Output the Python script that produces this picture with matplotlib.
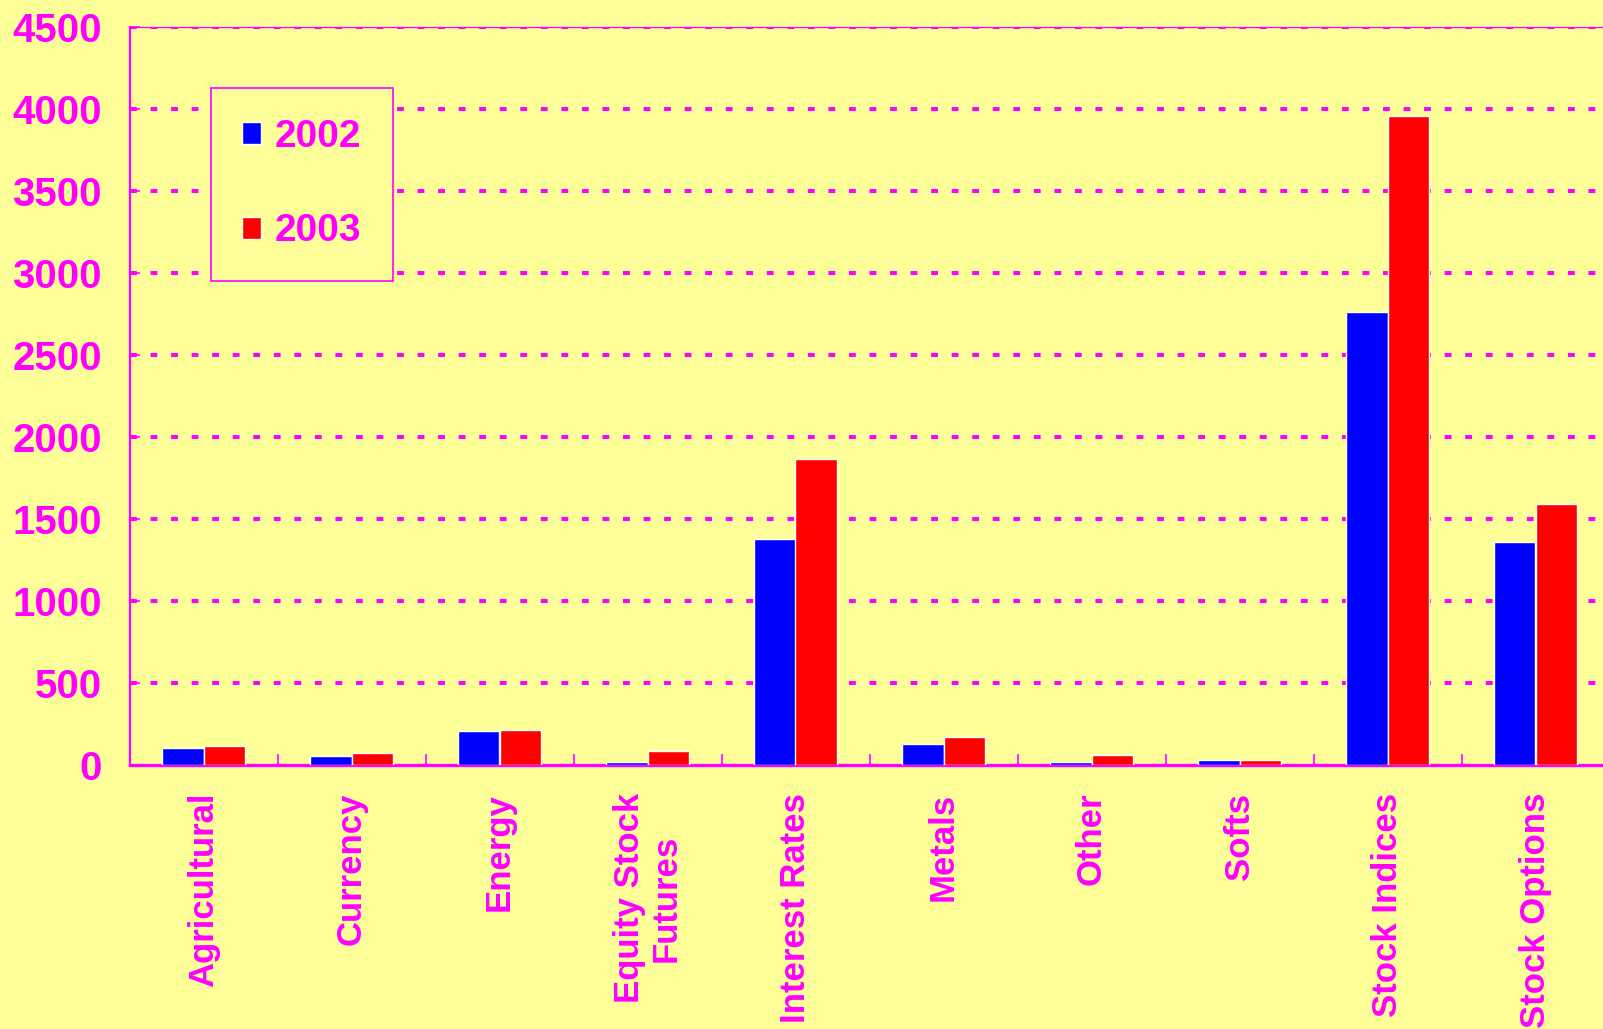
import numpy as np
import matplotlib
matplotlib.use("Agg")
import matplotlib.pyplot as plt

plt.rcParams['font.family'] = ['Liberation Sans', 'DejaVu Sans']
plt.rcParams['font.weight'] = 'bold'

categories = ['Agricultural', 'Currency', 'Energy', 'Equity Stock\nFutures',
              'Interest Rates', 'Metals', 'Other', 'Softs', 'Stock Indices',
              'Stock Options']
vals_2002 = [105, 53, 205, 20, 1379, 126, 20, 30, 2762, 1360]
vals_2003 = [118, 75, 213, 85, 1865, 171, 61, 30, 3955, 1591]
series_names = ['2002', '2003']
yticks = [0, 500, 1000, 1500, 2000, 2500, 3000, 3500, 4000, 4500]

bg = '#FFFF99'
mag = '#FF00FF'

fig = plt.figure(figsize=(16.03, 10.29), dpi=100, facecolor=bg)
ax = fig.add_axes([129.5/1603, 1 - 765/1029, 1480/1603, 738.3/1029])
ax.set_facecolor(bg)

x = np.arange(len(categories))
w = 0.28
ax.bar(x - w/2, vals_2002, w, color='#0000FF', edgecolor='white', linewidth=1, label=series_names[0], zorder=3)
ax.bar(x + w/2, vals_2003, w, color='#FF0000', edgecolor='white', linewidth=1, label=series_names[1], zorder=3)

ax.set_xlim(-0.5, len(categories) - 0.5)
ax.set_ylim(0, 4500)
ax.set_yticks(yticks)
ax.set_yticklabels([str(v) for v in yticks])

# category labels sit between the boundary ticks
ax.set_xticks(np.arange(len(categories) + 1) - 0.5)
ax.set_xticklabels([])
ax.set_xticks(x, minor=True)
ax.set_xticklabels(categories, minor=True, rotation=90, fontsize=25, color=mag,
                   fontweight='bold', linespacing=1.15, ha='center', va='top')
ax.tick_params(axis='x', which='minor', length=0, pad=20)
ax.tick_params(axis='x', which='major', direction='in', length=8, width=1.2, color=mag)
ax.tick_params(axis='y', direction='in', length=7, width=1.2, color=mag,
               labelcolor=mag, labelsize=29, pad=20)
for lab in ax.get_yticklabels():
    lab.set_fontweight('bold')

ax.yaxis.grid(True, color=mag, linestyle=(0, (1.7, 3.4)), linewidth=2.9)
ax.set_axisbelow(True)
ax.get_ygridlines()[0].set_visible(False)

ax.spines['left'].set_color(mag)
ax.spines['left'].set_linewidth(1.6)
ax.spines['bottom'].set_color(mag)
ax.spines['bottom'].set_linewidth(2.4)
ax.spines['top'].set_color(mag)
ax.spines['top'].set_linewidth(0.9)
ax.spines['right'].set_visible(False)

leg = ax.legend(loc='upper left', bbox_to_anchor=(0.055, 0.917), borderaxespad=0,
                fontsize=28, frameon=True, fancybox=False, facecolor=bg,
                edgecolor=mag, framealpha=1, handlelength=0.5, handleheight=0.5,
                handletextpad=0.35, labelspacing=1.5, borderpad=0.8)
leg.get_frame().set_linewidth(1.2)
for t in leg.get_texts():
    t.set_color(mag)
    t.set_fontweight('bold')
leg.set_zorder(5)

fig.savefig('out.png', dpi=100, facecolor=bg)
